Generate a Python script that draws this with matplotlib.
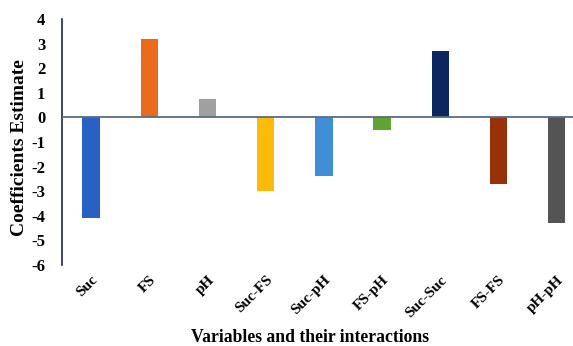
import matplotlib
matplotlib.use("Agg")
import matplotlib.pyplot as plt

categories = ["Suc", "FS", "pH", "Suc-FS", "Suc-pH", "FS-pH", "Suc-Suc", "FS-FS", "pH-pH"]
coefficients = [-4.1, 3.2, 0.75, -3.0, -2.4, -0.5, 2.7, -2.7, -4.3]
bar_colors = ["#2860C4", "#EB6A1B", "#A0A0A0", "#FDBA0B", "#3F8ED6",
              "#5FA431", "#0C2660", "#963108", "#545454"]
y_ticks = [4, 3, 2, 1, 0, -1, -2, -3, -4, -5, -6]

plt.rcParams["font.family"] = ["Liberation Serif", "DejaVu Serif"]
plt.rcParams["font.weight"] = "bold"

fig = plt.figure(figsize=(5.73, 3.46), dpi=100)
ax = fig.add_axes([62 / 573, 81 / 346, 1 - 62 / 573, (265 - 19) / 346])

x = list(range(len(categories)))
ax.bar(x, coefficients, width=0.30, color=bar_colors, zorder=2)
ax.axhline(0, color="#5B6B85", linewidth=1.3, zorder=3)

ax.set_xlim(-0.5, 8.28)
ax.set_ylim(-6, 4)
ax.set_yticks(y_ticks)
ax.set_yticklabels([str(t) for t in y_ticks], fontsize=12, fontweight="bold")
ax.set_xticks(x)
ax.set_xticklabels(categories, rotation=45, ha="right", rotation_mode="anchor",
                   fontsize=11, fontweight="bold")
ax.tick_params(axis="both", length=0)
ax.tick_params(axis="y", pad=12)
ax.tick_params(axis="x", pad=6)

for side in ["top", "right", "bottom"]:
    ax.spines[side].set_visible(False)
ax.spines["left"].set_color("#1F2A4A")
ax.spines["left"].set_linewidth(1.2)

fig.text(20 / 573, 1 - 148 / 346, "Coefficients Estimate", rotation=90,
         ha="center", va="center", fontsize=14, fontweight="bold")
fig.text(310 / 573, 1 - 338 / 346, "Variables and their interactions",
         ha="center", va="center", fontsize=12.7, fontweight="bold")

fig.savefig("out.png", dpi=100)
